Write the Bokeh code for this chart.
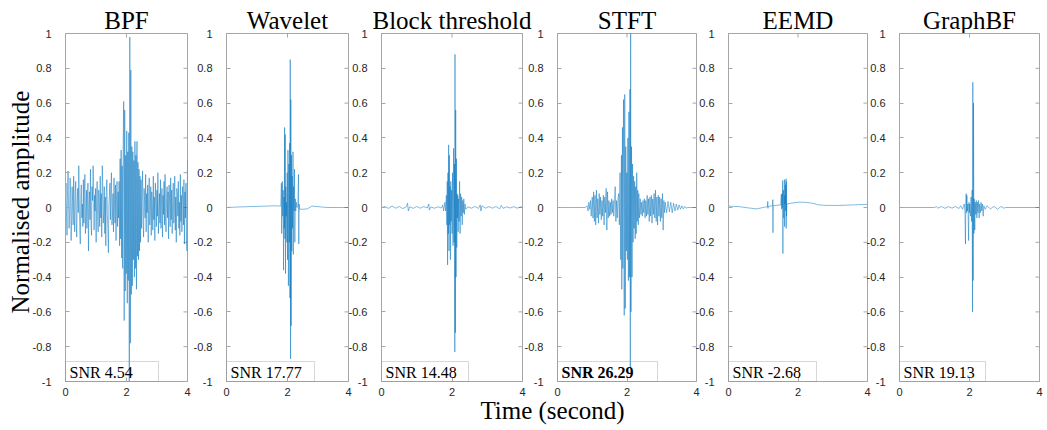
import numpy as np
from bokeh.plotting import figure
from bokeh.layouts import row, column
from bokeh.models import Range1d, FixedTicker, BoxAnnotation, Label, CustomJSTickFormatter
from bokeh.core.properties import value
from bokeh.embed import file_html
from bokeh.resources import INLINE

# ---------------- data ----------------
titles = ["BPF", "Wavelet", "Block threshold", "STFT", "EEMD", "GraphBF"]
snr_labels = ["SNR 4.54", "SNR 17.77", "SNR 14.48", "SNR 26.29", "SNR -2.68", "SNR 19.13"]
snr_best = [False, False, False, True, False, False]
x_ticks = [0, 2, 4]
y_ticks = [-1, -0.8, -0.6, -0.4, -0.2, 0, 0.2, 0.4, 0.6, 0.8, 1]
x_label = "Time (second)"
y_label = "Normalised amplitude"

bpf_y = [
    0.06, 0.14, -0.05, -0.16, 0.10, 0.21, 0.02, -0.12, -0.04, 0.17, 0.08, -0.19, -0.07, 0.12, 0.03, -0.10, 0.18, -0.02, -0.14, 0.09,
    0.15, -0.08, -0.17, 0.04, 0.11, -0.03, 0.24, 0.05, -0.13, -0.21, 0.07, 0.13, -0.06, 0.02, -0.11, 0.16, -0.09, 0.08, 0.19, -0.15,
    -0.04, 0.10, -0.12, 0.06, 0.14, -0.25, 0.01, 0.09, -0.07, 0.22, -0.10, -0.16, 0.12, 0.04, 0.24, 0.17, -0.13, 0.07, -0.02, 0.11,
    -0.20, 0.05, 0.15, -0.08, -0.14, 0.10, 0.03, -0.11, 0.18, -0.06, 0.08, -0.17, 0.24, 0.13, -0.09, -0.03, 0.12, -0.15, 0.06, -0.22,
    0.09, 0.16, -0.04, -0.12, -0.26, 0.02, 0.07, 0.14, -0.07, 0.11, 0.20, -0.10, -0.05, 0.08, -0.14, 0.17, 0.03, -0.09, 0.13, -0.19,
    0.06, 0.15, -0.11, 0.09, -0.06,
    0.15, -0.22, 0.28, -0.18, 0.33, -0.29, 0.24, -0.35, 0.36, 0.61, -0.65, 0.56, -0.48, 0.30, -0.38, 0.44, -0.55, 0.32, -0.42, 0.43,
    -1.00, 0.98, -0.78, 0.79, -0.50, 0.35, -0.45, 0.32, -0.30, 0.27, -0.40, 0.38, -0.35, 0.30, -0.47, 0.38, -0.28, 0.26, -0.30, 0.22,
    -0.25, 0.18, -0.20,
    0.16, -0.12, 0.07, 0.21, -0.09, -0.17, 0.11, 0.03, -0.06, 0.19, -0.14, 0.08, -0.03, 0.13, -0.20, 0.05, 0.17, -0.10, -0.04, 0.12,
    -0.16, 0.09, 0.02, -0.13, 0.18, -0.07, 0.06, -0.19, 0.14, 0.04, -0.11, 0.10, -0.05, 0.20, -0.15, -0.02, 0.08, -0.09, 0.16, -0.12,
    0.03, 0.11, -0.17, 0.07, -0.04, 0.15, -0.10, 0.19, -0.08, -0.14, 0.05, 0.12, -0.06, 0.09, -0.18, 0.13, 0.02, -0.11, 0.17, -0.07,
    0.10, -0.15, 0.04, 0.14, -0.09, -0.03, 0.18, -0.13, 0.06, -0.20, 0.11, 0.08, -0.05, 0.15, -0.12, 0.03, -0.16, 0.19, -0.08, 0.07,
    -0.14, 0.12, 0.05, -0.10, 0.16, -0.21, 0.09, -0.06, 0.14, -0.18, -0.25, 0.27,
]
bpf_t = list(np.linspace(0, 4, len(bpf_y)))

wavelet_t = [0, 0.4, 0.9, 1.3, 1.6, 1.78, 1.80, 1.81, 1.83, 1.845, 1.86, 1.87, 1.885, 1.895, 1.905, 1.915, 1.925, 1.935,
             1.945, 1.955, 1.965, 1.98, 1.99, 2.00, 2.015, 2.03, 2.045, 2.06, 2.07, 2.08, 2.09, 2.10, 2.11, 2.12, 2.13,
             2.14, 2.155, 2.165, 2.18, 2.19, 2.20, 2.215, 2.23, 2.24, 2.255, 2.27, 2.29, 2.31, 2.34, 2.36, 2.37, 2.38,
             2.40, 2.5, 2.65, 2.8, 3.0, 3.3, 3.7, 4.0]
wavelet_y = [0.0, 0.003, 0.006, 0.008, 0.01, 0.008, 0.14, -0.15, 0.15, -0.05, 0.10, -0.36, 0.06, -0.12, 0.46, -0.18, 0.42, -0.38,
             0.12, -0.05, 0.03, -0.20, 0.20, -0.30, 0.33, -0.45, 0.25, -0.20, 0.37, -0.52, 0.85, -0.87, 0.62, -0.68, 0.30,
             -0.25, 0.18, -0.12, 0.32, -0.27, 0.12, -0.02, 0.22, -0.20, 0.05, -0.02, 0.03, 0.0, 0.01, 0.19, -0.21, 0.02,
             -0.01, -0.01, -0.008, 0.008, 0.005, 0.0, 0.0, 0.0]

block_t = [0, 0.1, 0.2, 0.3, 0.4, 0.5, 0.6, 0.7, 0.74, 0.76, 0.8, 0.9, 1.0, 1.1, 1.2, 1.3, 1.34, 1.36, 1.4, 1.5, 1.6, 1.7,
           1.74, 1.76, 1.8, 1.82, 1.84, 1.855, 1.865, 1.875, 1.885, 1.895, 1.905, 1.915, 1.925, 1.935, 1.945, 1.955,
           1.965, 1.975, 1.99, 2.0, 2.015, 2.03, 2.045, 2.06, 2.07, 2.08, 2.085, 2.095, 2.105, 2.115, 2.125, 2.135,
           2.145, 2.155, 2.165, 2.175, 2.185, 2.20, 2.215, 2.23, 2.245, 2.26, 2.275, 2.29, 2.305, 2.32, 2.335, 2.35,
           2.37, 2.39, 2.45, 2.55, 2.65, 2.75, 2.8, 2.82, 2.85, 2.95, 3.05, 3.15, 3.25, 3.35, 3.4, 3.45, 3.55, 3.65,
           3.75, 3.85, 3.95, 4.0]
block_y = [0.0, 0.005, -0.005, 0.008, -0.004, 0.006, -0.006, 0.003, 0.025, -0.02, 0.004, -0.005, 0.006, -0.004, 0.005,
           -0.003, 0.02, -0.015, 0.003, -0.004, 0.004, -0.003, 0.015, -0.02, 0.03, -0.02, 0.07, -0.10, 0.15, -0.33, 0.20,
           -0.15, 0.36, -0.25, 0.30, -0.10, 0.12, -0.30, 0.15, -0.08, 0.10, -0.15, 0.20, -0.22, 0.34, -0.20, 0.25, -0.83,
           0.88, -0.72, 0.56, -0.40, 0.28, -0.23, 0.08, -0.06, 0.07, -0.14, 0.05, -0.08, 0.15, -0.15, 0.08, -0.05, 0.06,
           -0.10, 0.04, -0.03, 0.05, -0.04, 0.02, -0.01, 0.004, -0.004, 0.006, -0.005, 0.015, -0.02, 0.01, -0.004, 0.005,
           -0.004, 0.006, -0.008, 0.012, -0.005, 0.004, -0.003, 0.005, -0.004, 0.004, 0.0]

stft_t = [0, 0.5, 0.8, 0.85, 0.88, 0.9, 0.93, 0.95, 0.97, 1.0, 1.02, 1.04, 1.06, 1.08, 1.10, 1.12, 1.14, 1.16, 1.18, 1.20,
          1.22, 1.24, 1.26, 1.28, 1.30, 1.32, 1.34, 1.36, 1.38, 1.40, 1.42, 1.44, 1.46, 1.48, 1.50, 1.52, 1.54, 1.56,
          1.58, 1.60, 1.62, 1.64, 1.66, 1.68, 1.70, 1.72, 1.74, 1.76, 1.78, 1.80, 1.82, 1.84, 1.85, 1.87, 1.88, 1.90,
          1.92, 1.935, 1.95, 1.965, 1.98, 1.995, 2.01, 2.025, 2.04, 2.055, 2.07, 2.085, 2.095, 2.105, 2.115, 2.13,
          2.145, 2.16, 2.175, 2.19, 2.205, 2.22, 2.235, 2.25, 2.265, 2.28, 2.295, 2.31, 2.325, 2.34, 2.36, 2.38, 2.40,
          2.42, 2.44, 2.46, 2.48, 2.50, 2.52, 2.54, 2.56, 2.58, 2.60, 2.62, 2.64, 2.66, 2.68, 2.70, 2.72, 2.74, 2.76,
          2.78, 2.80, 2.82, 2.84, 2.86, 2.88, 2.90, 2.92, 2.94, 2.96, 2.98, 3.00, 3.02, 3.04, 3.06, 3.08, 3.10, 3.14,
          3.18, 3.22, 3.26, 3.30, 3.34, 3.38, 3.42, 3.46, 3.50, 3.54, 3.58, 3.62, 3.66, 3.70, 3.75, 4.0]
stft_y = [0.0, 0.0, 0.0, 0.01, -0.02, 0.03, -0.01, 0.04, -0.05, 0.06, -0.06, 0.09, -0.08, 0.07, -0.10, 0.10, -0.06, 0.05,
          -0.09, 0.08, -0.04, 0.06, -0.07, 0.04, -0.05, 0.07, -0.10, 0.06, -0.03, 0.11, -0.13, 0.09, -0.06, 0.04, -0.05,
          0.03, -0.04, 0.05, -0.03, 0.04, -0.05, 0.03, 0.12, -0.08, 0.04, -0.06, 0.05, 0.08, -0.10, 0.20, -0.30, 0.30,
          -0.47, 0.46, -0.35, 0.62, -0.62, 0.65, -0.58, 0.35, -0.25, 0.20, -0.30, 0.40, -0.42, 0.55, -0.40, 0.68, -0.92,
          1.00, -0.60, 0.35, -0.40, 0.25, -0.20, 0.18, -0.12, 0.15, -0.18, 0.12, -0.15, 0.20, -0.08, 0.10, -0.10, 0.08,
          -0.06, 0.05, -0.04, 0.03, -0.05, 0.04, -0.03, 0.05, -0.06, 0.04, -0.05, 0.07, -0.04, 0.05, -0.08, 0.06, -0.05,
          0.07, -0.09, 0.05, -0.04, 0.08, -0.06, 0.10, -0.08, 0.06, -0.10, 0.07, -0.05, 0.06, -0.08, 0.05, -0.06, 0.08,
          -0.13, 0.04, -0.03, 0.03, -0.03, 0.035, -0.025, 0.03, -0.03, 0.025, -0.02, 0.02, -0.015, 0.015, -0.01, 0.01,
          -0.008, 0.006, -0.004, 0.0, 0.0]

eemd_t = [0, 0.3, 0.6, 0.8, 1.0, 1.12, 1.13, 1.135, 1.14, 1.27, 1.275, 1.28, 1.285, 1.5, 1.52, 1.53, 1.54, 1.55, 1.56,
          1.565, 1.57, 1.58, 1.59, 1.60, 1.61, 1.615, 1.62, 1.63, 1.64, 1.645, 1.655, 1.66, 1.665, 1.67, 1.68, 1.8, 2.0,
          2.2, 2.4, 2.6, 2.8, 3.2, 3.6, 4.0]
eemd_y = [0.008, 0.005, -0.003, -0.008, 0.0, 0.005, 0.035, -0.005, 0.006, 0.01, 0.045, -0.145, 0.01, 0.015, 0.075, -0.01,
          0.08, 0.0, 0.155, -0.265, 0.02, 0.10, -0.06, 0.03, 0.16, -0.11, 0.07, 0.02, 0.13, -0.02, 0.165, -0.12, 0.15,
          -0.05, 0.02, 0.025, 0.03, 0.03, 0.025, 0.015, 0.012, 0.012, 0.015, 0.018]

graphbf_t = [0, 1.0, 1.05, 1.1, 1.2, 1.3, 1.4, 1.5, 1.6, 1.7, 1.75, 1.8, 1.85, 1.87, 1.885, 1.895, 1.905, 1.915, 1.925,
             1.94, 1.955, 1.975, 1.985, 1.995, 2.01, 2.03, 2.045, 2.06, 2.075, 2.085, 2.095, 2.105, 2.115, 2.125, 2.135,
             2.15, 2.165, 2.18, 2.195, 2.21, 2.225, 2.24, 2.26, 2.275, 2.29, 2.31, 2.33, 2.35, 2.37, 2.39, 2.41, 2.45,
             2.5, 2.6, 2.7, 2.8, 2.9, 3.0, 3.02, 4.0]
graphbf_y = [0.0, 0.0, 0.005, -0.004, 0.006, -0.005, 0.005, -0.004, 0.006, -0.006, 0.01, -0.01, 0.02, -0.02, -0.21, 0.03,
             0.08, -0.03, 0.07, -0.02, 0.02, -0.19, 0.03, -0.03, 0.02, -0.05, 0.06, -0.08, 0.10, -0.60, 0.72, -0.42, 0.60,
             -0.15, 0.05, -0.13, 0.03, -0.04, 0.04, -0.06, 0.03, -0.03, 0.04, -0.06, 0.02, -0.03, 0.03, -0.02, 0.02, -0.05,
             0.01, -0.01, 0.01, -0.008, 0.007, -0.01, 0.006, -0.005, 0.0, 0.0]

series_t = [bpf_t, wavelet_t, block_t, stft_t, eemd_t, graphbf_t]
series_y = [bpf_y, wavelet_y, block_y, stft_y, eemd_y, graphbf_y]

# ---------------- layout / style ----------------
W, H = 1047, 430
frame_top = 33
frame_h = 348
frame_left = [65, 226, 381, 557, 728, 899]
frame_w = [122, 122, 141, 139, 139, 140]
bl, bt, bb = 40, 10, 24
br = [10, 10, 10, 10, 10, 8]
title_h = 40
ylab_w = 36
xlab_h = 40
xlab_top = 390
snr_box_px = [93, 88, 87, 100, 88, 86]
snr_box_h_px = 20

row_top = frame_top - bt
row_h = bt + frame_h + bb
row_bottom = row_top + row_h

serif = "Liberation Serif"
sans = "Liberation Sans"
axis_col = "#a6a6a6"
tick_txt = "#262626"
line_col = "#0072BD"


def style_axis(ax, standoff):
    ax.axis_line_color = axis_col
    ax.major_tick_line_color = axis_col
    ax.major_tick_in = 4
    ax.major_tick_out = 0
    ax.minor_tick_line_color = None
    ax.major_label_text_font = sans
    ax.major_label_text_color = tick_txt
    ax.major_label_text_font_size = "11px"
    ax.major_label_standoff = standoff


def panel(i):
    fig_left = frame_left[i] - bl
    prev_right = ylab_w if i == 0 else frame_left[i - 1] + frame_w[i - 1] + br[i - 1]
    p = figure(frame_width=frame_w[i], frame_height=frame_h,
               x_range=Range1d(0, 4), y_range=Range1d(-1, 1),
               output_backend="svg", toolbar_location=None,
               min_border_left=bl, min_border_right=br[i],
               min_border_top=bt, min_border_bottom=bb,
               margin=(0, 0, 0, fig_left - prev_right))
    p.grid.visible = False
    p.outline_line_color = axis_col
    p.background_fill_color = "white"
    p.border_fill_color = None
    p.xaxis.ticker = FixedTicker(ticks=x_ticks)
    p.yaxis.ticker = FixedTicker(ticks=y_ticks)
    p.yaxis.formatter = CustomJSTickFormatter(code="return Number(tick.toFixed(1)).toString();")
    for ax in p.xaxis:
        style_axis(ax, 6)
    for ax in p.yaxis:
        style_axis(ax, 14)

    # mirrored inward ticks on the right and top edges of the box
    p.scatter(x=[4] * len(y_ticks), y=y_ticks, marker="dash", size=8,
              line_color=axis_col, line_width=1)
    p.scatter(x=x_ticks, y=[1] * len(x_ticks), marker="dash", angle=np.pi / 2, size=8,
              line_color=axis_col, line_width=1)

    p.line(series_t[i], series_y[i], line_color=line_col, line_width=0.55, line_alpha=0.9)

    box_right = snr_box_px[i] / frame_w[i] * 4
    box_top = -1 + snr_box_h_px / frame_h * 2
    p.add_layout(BoxAnnotation(left=0, right=box_right, bottom=-1, top=box_top,
                               fill_alpha=0, line_color="#7a7a7a", line_width=1, level="overlay"))
    p.add_layout(Label(x=0, y=-1 + 9 / frame_h * 2, x_offset=4, text=snr_labels[i],
                       text_font=serif, text_font_size="16px", text_color="black",
                       text_baseline="middle", text_align="left",
                       text_font_style="bold" if snr_best[i] else "normal"))
    return p


panels = [panel(i) for i in range(6)]
centres = [frame_left[i] + frame_w[i] / 2 for i in range(6)]


def strip(w, h, margin=(0, 0, 0, 0)):
    s = figure(width=w, height=h, x_range=Range1d(0, w), y_range=Range1d(0, h),
               output_backend="svg", toolbar_location=None, min_border=0,
               x_axis_location=None, y_axis_location=None, margin=margin)
    s.grid.visible = False
    s.outline_line_color = None
    s.background_fill_color = None
    s.border_fill_color = None
    return s


ts = strip(W, title_h)
ts.text(x=centres, y=[title_h - 20] * 6, text=titles, text_font=value(serif), text_font_size="25px",
        text_align="center", text_baseline="middle", text_color="black")

ys = strip(ylab_w, row_h)
ys.text(x=[19.5], y=[row_h - (208 - row_top)], text=[y_label], angle=np.pi / 2, text_font=value(serif),
        text_font_size="25px", text_align="center", text_baseline="middle", text_color="black")

xs = strip(W, xlab_h, margin=(xlab_top - row_bottom, 0, 0, 0))
xs.text(x=[552], y=[xlab_h - (410 - xlab_top)], text=[x_label], text_font=value(serif),
        text_font_size="25px", text_align="center", text_baseline="middle", text_color="black")

panel_row = row(ys, *panels, margin=(row_top - title_h, 0, 0, 0))
layout = column(ts, panel_row, xs)

open("out.html", "w").write(file_html(layout, INLINE))
